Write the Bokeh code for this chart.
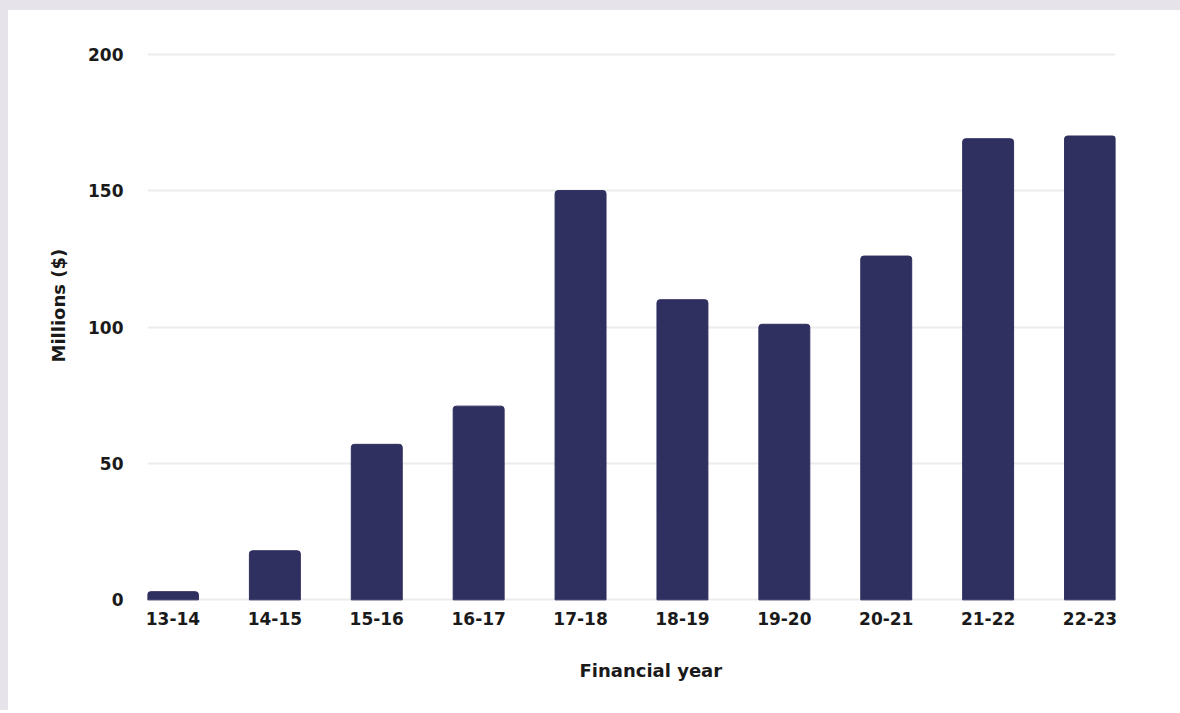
from bokeh.plotting import figure
from bokeh.models import Range1d, FixedTicker, Spacer, Title
from bokeh.layouts import column, row
from bokeh.embed import file_html
from bokeh.resources import INLINE

years = ["13-14", "14-15", "15-16", "16-17", "17-18", "18-19", "19-20", "20-21", "21-22", "22-23"]
values = [3, 18, 57, 71, 150, 110, 101, 126, 169, 170]
y_ticks = [0, 50, 100, 150, 200]

xs = list(range(len(years)))
GREY = "#e6e4ea"
TEXT = "#1a1a1a"
font = "DejaVu Sans"

p = figure(width=1172, height=700, output_backend="svg", toolbar_location=None,
           x_range=Range1d(-0.25, len(years) - 0.75), y_range=Range1d(-0.6, 200.6))
p.min_border_left = 139
p.min_border_right = 65
p.min_border_top = 42
p.min_border_bottom = 108
p.outline_line_color = None
p.background_fill_color = "white"
p.border_fill_color = "white"

p.vbar(x=xs, top=values, bottom=0, width=0.5, color="#2f2f60", border_radius=(3, 3, 0, 0))

p.xaxis.ticker = FixedTicker(ticks=xs)
p.xaxis.major_label_overrides = {i: y for i, y in enumerate(years)}
p.yaxis.ticker = FixedTicker(ticks=y_ticks)
for ax in (p.xaxis, p.yaxis):
    ax.axis_line_color = None
    ax.major_tick_line_color = None
    ax.minor_tick_line_color = None
    ax.major_label_text_font = font
    ax.major_label_text_font_style = "bold"
    ax.major_label_text_font_size = "17px"
    ax.major_label_text_color = TEXT

p.xaxis.major_label_standoff = 4
p.yaxis.major_label_standoff = 18

# axis titles as side titles, placed as in the reference
p.add_layout(Title(text="Financial year", align="left", offset=432, standoff=60,
                   text_font=font, text_font_style="bold", text_font_size="18px",
                   text_color=TEXT), "below")
p.add_layout(Title(text="Millions ($)", align="left", offset=239, standoff=33,
                   text_font=font, text_font_style="bold", text_font_size="18px",
                   text_color=TEXT), "left")

p.xgrid.grid_line_color = None
p.ygrid.grid_line_color = "#ececec"
p.ygrid.grid_line_width = 2

top_bar = Spacer(width=1180, height=10, styles={"background-color": GREY})
left_bar = Spacer(width=8, height=700, styles={"background-color": GREY})
layout = column(top_bar, row(left_bar, p))

open("out.html", "w").write(file_html(layout, INLINE))
